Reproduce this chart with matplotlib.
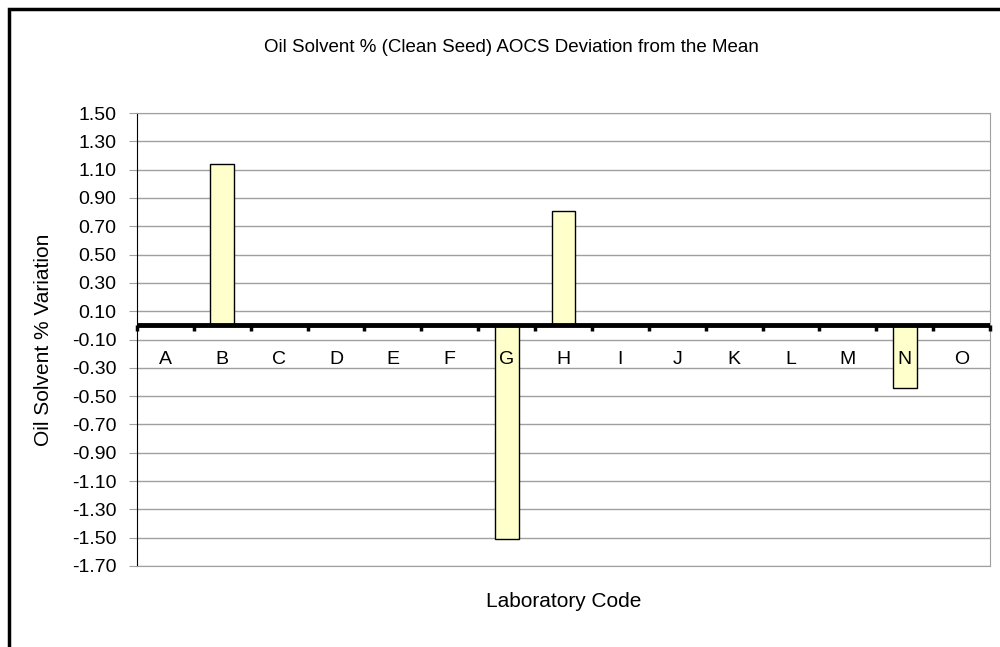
import numpy as np
from matplotlib import pyplot as plt
from matplotlib.patches import Rectangle

plt.rcParams['font.family'] = ['Liberation Sans', 'DejaVu Sans']

# lab codes and deviation from the mean
labs = ["A", "B", "C", "D", "E", "F", "G", "H", "I", "J", "K", "L", "M", "N", "O"]
deviation = [0, 1.14, 0, 0, 0, 0, -1.51, 0.81, 0, 0, 0, 0, 0, -0.44, 0]
y_ticks = [-1.70, -1.50, -1.30, -1.10, -0.90, -0.70, -0.50, -0.30, -0.10,
           0.10, 0.30, 0.50, 0.70, 0.90, 1.10, 1.30, 1.50]

grid_clr = "#a0a0a0"
bar_clr = "#ffffcc"

if __name__ == '__main__':
    fig = plt.figure(figsize=(10, 6.47), dpi=100)
    ax = fig.add_axes([0.137, 0.1252, 0.853, 0.7001])

    xs = np.arange(len(labs))
    ax.bar(xs, deviation, width=0.42, color=bar_clr, edgecolor="black", linewidth=1, zorder=3)

    ax.set_xlim(-0.5, len(labs) - 0.5)
    ax.set_ylim(y_ticks[0], y_ticks[-1])
    ax.set_yticks(y_ticks)
    ax.set_yticklabels(["%.2f" % v for v in y_ticks])
    ax.yaxis.grid(True, color=grid_clr, linewidth=1)
    ax.set_axisbelow(True)
    ax.tick_params(axis="y", direction="out", length=6, color=grid_clr, labelsize=14, pad=9)
    ax.set_xticks([])

    for side in ["top", "right", "bottom"]:
        ax.spines[side].set_color(grid_clr)
    ax.spines["left"].set_color("black")

    # zero axis with category ticks and labels
    ax.axhline(0, color="black", linewidth=3.5, zorder=4)
    ax.vlines(np.arange(len(labs) + 1) - 0.5, -0.04, 0, color="black", linewidth=2.5, zorder=4,
              clip_on=False)
    for x, lab in zip(xs, labs):
        ax.text(x, -0.24, lab, ha="center", va="center", fontsize=14, zorder=5)

    ax.set_ylabel("Oil Solvent % Variation", fontsize=15)
    ax.yaxis.set_label_coords(-0.098, 0.5)
    ax.set_xlabel("Laboratory Code", fontsize=15, labelpad=19)
    fig.text(0.511, 0.927, "Oil Solvent % (Clean Seed) AOCS Deviation from the Mean",
             ha="center", va="center", fontsize=13.5)

    fig.add_artist(Rectangle((0.009, -0.1), 1.1, 1.086, transform=fig.transFigure,
                             fill=False, edgecolor="black", linewidth=2.5))

    fig.savefig("out.png", dpi=100)
